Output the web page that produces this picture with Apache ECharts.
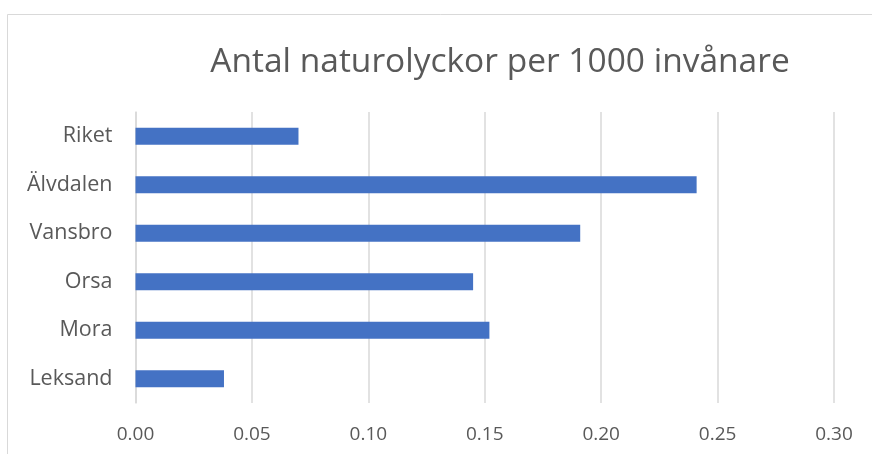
<!DOCTYPE html>
<html><head><meta charset="utf-8">
<script src="https://cdn.jsdelivr.net/npm/echarts@6/dist/echarts.min.js"></script>
<style>html,body{margin:0;padding:0;background:#fff}#c{width:872px;height:454px}</style>
</head><body><div id="c"></div>
<script>
const titleText = 'Antal naturolyckor per 1000 invånare';
const categories = ['Leksand', 'Mora', 'Orsa', 'Vansbro', 'Älvdalen', 'Riket'];
const values = [0.038, 0.152, 0.145, 0.191, 0.241, 0.070];
const xMin = 0, xMax = 0.30, xStep = 0.05;

const chart = echarts.init(document.getElementById('c'), null, {renderer: 'canvas'});
const font = '"Open Sans", Lato, sans-serif';
chart.setOption({
  animation: false,
  backgroundColor: '#fff',
  graphic: [{
    type: 'rect', left: 5, top: 12, shape: {width: 900, height: 500},
    style: {fill: 'none', stroke: '#d9d9d9', lineWidth: 1}, silent: true, z: -1
  }, {
    type: 'text', x: 500, y: 62, silent: true,
    style: {
      text: titleText, fontFamily: font, fontSize: 33.5, fontWeight: 'normal',
      fill: '#595959', align: 'center', verticalAlign: 'middle'
    }
  }],
  grid: {left: 135.5, right: 38, top: 112, bottom: 51, containLabel: false},
  xAxis: {
    type: 'value', min: xMin, max: xMax, interval: xStep,
    axisLine: {show: false}, axisTick: {show: false},
    splitLine: {lineStyle: {color: '#d9d9d9', width: 1.5}},
    axisLabel: {
      fontFamily: font, fontSize: 19, color: '#595959', margin: 22,
      formatter: v => v.toFixed(2)
    }
  },
  yAxis: {
    type: 'category', data: categories,
    axisLine: {show: true, lineStyle: {color: '#d9d9d9', width: 1.5}},
    axisTick: {show: false},
    axisLabel: {fontFamily: font, fontSize: 21.5, color: '#595959', margin: 23}
  },
  series: [{
    type: 'bar', data: values, barWidth: '35%',
    itemStyle: {color: '#4472C4'}
  }]
});
</script></body></html>
